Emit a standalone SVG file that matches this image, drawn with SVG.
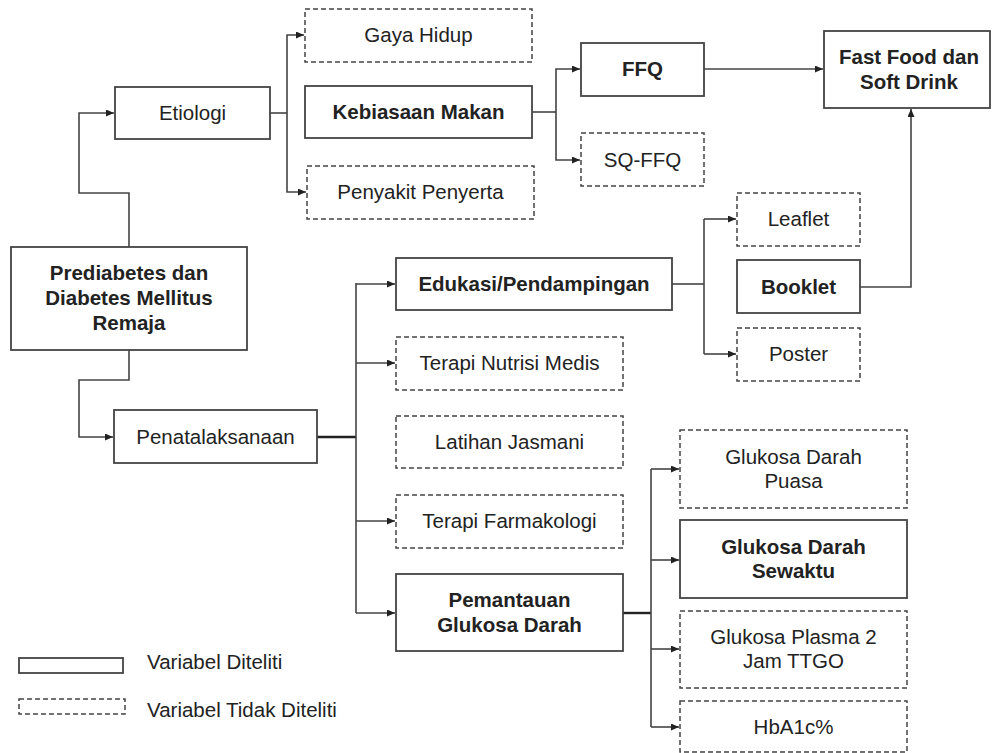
<svg xmlns="http://www.w3.org/2000/svg" width="994" height="753" viewBox="0 0 994 753">
<style>
.box{fill:#fff;stroke:#444;stroke-width:1.8}
.dash{fill:#fff;stroke:#444;stroke-width:1.5;stroke-dasharray:5 3}
.t{font-family:"Liberation Sans",Arial,sans-serif;font-size:20.5px;fill:#222;text-anchor:middle}
.b{font-weight:bold}
.l{font-family:"Liberation Sans",Arial,sans-serif;font-size:20.5px;fill:#222}
.c{fill:none;stroke:#444;stroke-width:1.6}
.ck{fill:none;stroke:#222;stroke-width:2.4}
</style>
<defs>
<marker id="ah" markerWidth="8" markerHeight="7" refX="8" refY="3.5" orient="auto" markerUnits="userSpaceOnUse">
<path d="M0,0 L8,3.5 L0,7 Z" fill="#222"/>
</marker>
</defs>
<rect width="994" height="753" fill="#fff"/>
<g id="connectors">
<path class="c" d="M129,247 V193 H79 V113 H114" marker-end="url(#ah)"/>
<path class="c" d="M129,350 V380 H79 V437 H113" marker-end="url(#ah)"/>
<path class="c" d="M270,113 H287"/>
<path class="c" d="M287,113 V35 H304" marker-end="url(#ah)"/>
<path class="c" d="M287,113 V192 H306" marker-end="url(#ah)"/>
<path class="c" d="M532,112 H556"/>
<path class="c" d="M556,112 V69 H580" marker-end="url(#ah)"/>
<path class="c" d="M556,112 V160 H580" marker-end="url(#ah)"/>
<path class="c" d="M704,69 H823" marker-end="url(#ah)"/>
<path class="c" d="M860,287 H911 V109" marker-end="url(#ah)"/>
<path class="ck" d="M317,437 H356"/>
<path class="c" d="M356,283 V613"/>
<path class="c" d="M356,284 H395" marker-end="url(#ah)"/>
<path class="c" d="M356,363 H395" marker-end="url(#ah)"/>
<path class="c" d="M356,521 H395" marker-end="url(#ah)"/>
<path class="c" d="M356,613 H395" marker-end="url(#ah)"/>
<path class="c" d="M672,284 H704"/>
<path class="c" d="M704,219 V354"/>
<path class="c" d="M704,219 H736" marker-end="url(#ah)"/>
<path class="c" d="M704,354 H736" marker-end="url(#ah)"/>
<path class="ck" d="M623,613 H651"/>
<path class="c" d="M651,469 V727"/>
<path class="c" d="M651,469 H679" marker-end="url(#ah)"/>
<path class="c" d="M651,560 H679" marker-end="url(#ah)"/>
<path class="c" d="M651,649 H679" marker-end="url(#ah)"/>
<path class="c" d="M651,727 H679" marker-end="url(#ah)"/>
</g>
<g id="n-prediabetes">
<rect class="box" x="11" y="247" width="236" height="103"/>
<text class="t b" x="129" y="280">Prediabetes dan</text>
<text class="t b" x="129" y="305">Diabetes Mellitus</text>
<text class="t b" x="129" y="330">Remaja</text>
</g>
<g id="n-etiologi">
<rect class="box" x="115" y="87" width="155" height="52"/>
<text class="t" x="192.5" y="120">Etiologi</text>
</g>
<g id="n-gaya">
<rect class="dash" x="305" y="9" width="227" height="53"/>
<text class="t" x="418.5" y="42">Gaya Hidup</text>
</g>
<g id="n-kebiasaan">
<rect class="box" x="305" y="86" width="227" height="52"/>
<text class="t b" x="418.5" y="119">Kebiasaan Makan</text>
</g>
<g id="n-penyakit">
<rect class="dash" x="307" y="166" width="227" height="53"/>
<text class="t" x="420.5" y="199">Penyakit Penyerta</text>
</g>
<g id="n-ffq">
<rect class="box" x="581" y="43" width="123" height="53"/>
<text class="t b" x="642.5" y="76">FFQ</text>
</g>
<g id="n-sqffq">
<rect class="dash" x="581" y="133" width="123" height="53"/>
<text class="t" x="642.5" y="167">SQ-FFQ</text>
</g>
<g id="n-fastfood">
<rect class="box" x="824" y="31" width="166" height="77"/>
<text class="t b" x="909" y="64">Fast Food dan</text>
<text class="t b" x="909" y="89">Soft Drink</text>
</g>
<g id="n-penatalaksanaan">
<rect class="box" x="114" y="410" width="203" height="53"/>
<text class="t" x="215.5" y="444">Penatalaksanaan</text>
</g>
<g id="n-edukasi">
<rect class="box" x="396" y="258" width="276" height="52"/>
<text class="t b" x="534" y="291">Edukasi/Pendampingan</text>
</g>
<g id="n-tnm">
<rect class="dash" x="396" y="337" width="227" height="53"/>
<text class="t" x="509.5" y="370">Terapi Nutrisi Medis</text>
</g>
<g id="n-latihan">
<rect class="dash" x="396" y="416" width="227" height="52"/>
<text class="t" x="509.5" y="449">Latihan Jasmani</text>
</g>
<g id="n-farmakologi">
<rect class="dash" x="396" y="495" width="227" height="53"/>
<text class="t" x="509.5" y="528">Terapi Farmakologi</text>
</g>
<g id="n-pemantauan">
<rect class="box" x="396" y="574" width="227" height="77"/>
<text class="t b" x="509.5" y="607">Pemantauan</text>
<text class="t b" x="509.5" y="632">Glukosa Darah</text>
</g>
<g id="n-leaflet">
<rect class="dash" x="737" y="193" width="123" height="53"/>
<text class="t" x="798.5" y="226">Leaflet</text>
</g>
<g id="n-booklet">
<rect class="box" x="737" y="260" width="123" height="53"/>
<text class="t b" x="798.5" y="294">Booklet</text>
</g>
<g id="n-poster">
<rect class="dash" x="737" y="328" width="123" height="53"/>
<text class="t" x="798.5" y="361">Poster</text>
</g>
<g id="n-gdp">
<rect class="dash" x="680" y="430" width="227" height="78"/>
<text class="t" x="793.5" y="464">Glukosa Darah</text>
<text class="t" x="793.5" y="488">Puasa</text>
</g>
<g id="n-gds">
<rect class="box" x="680" y="520" width="227" height="78"/>
<text class="t b" x="793.5" y="554">Glukosa Darah</text>
<text class="t b" x="793.5" y="578">Sewaktu</text>
</g>
<g id="n-gp2j">
<rect class="dash" x="680" y="611" width="227" height="77"/>
<text class="t" x="793.5" y="644">Glukosa Plasma 2</text>
<text class="t" x="793.5" y="668">Jam TTGO</text>
</g>
<g id="n-hba1c">
<rect class="dash" x="680" y="701" width="227" height="51"/>
<text class="t" x="793.5" y="734">HbA1c%</text>
</g>
<g id="legend">
<rect class="box" x="19" y="658" width="104" height="15"/>
<text class="l" x="147" y="669">Variabel Diteliti</text>
<rect class="dash" x="19" y="699" width="106" height="15"/>
<text class="l" x="147" y="717">Variabel Tidak Diteliti</text>
</g>
</svg>
